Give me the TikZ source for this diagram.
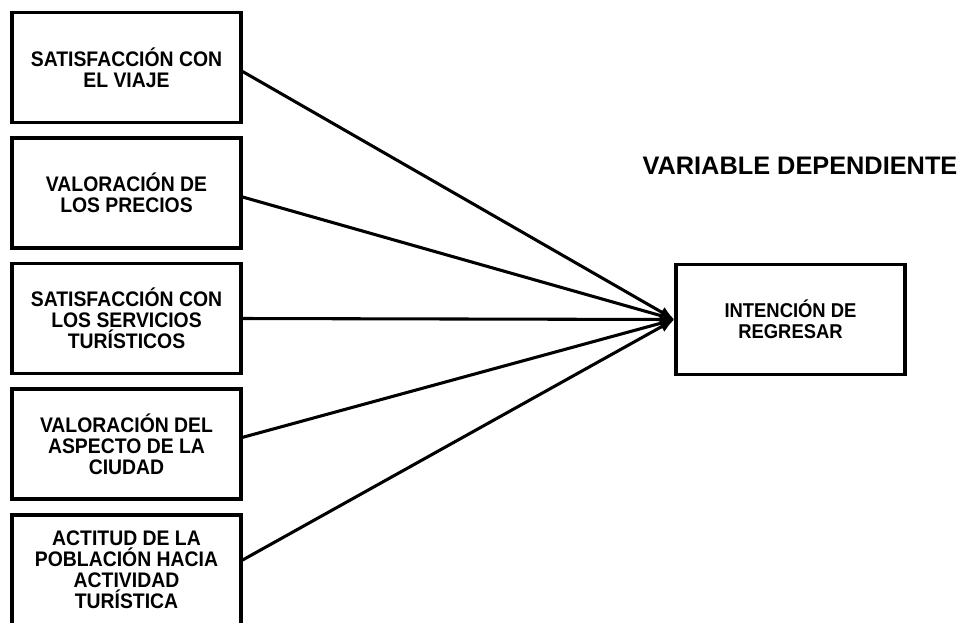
\documentclass[tikz,border=0pt]{standalone}
\usepackage{fontspec}
\setmainfont{Liberation Sans}
\newfontfamily\boxfont[FakeStretch=0.92]{Liberation Sans Bold}
\usetikzlibrary{arrows.meta,positioning}
\begin{document}
\begin{tikzpicture}[x=0.75pt,y=-0.75pt,
  box/.style={draw=black,line width=2.4pt,minimum width=229*0.75pt,minimum height=110*0.75pt,
    inner sep=0pt,align=center,font=\boxfont\fontsize{15.8}{15.8}\selectfont},
  conn/.style={line width=2.3pt,-{Latex[length=11pt,width=9pt]}}]
\useasboundingbox (0,0) rectangle (962,622);
\node[box] (b1) at (126.5,67.5) {SATISFACCIÓN CON\\EL VIAJE};
\node[box] (b2) at (126.5,193) {VALORACIÓN DE\\LOS PRECIOS};
\node[box] (b3) at (126.5,318.5) {SATISFACCIÓN CON\\LOS SERVICIOS\\TURÍSTICOS};
\node[box] (b4) at (126.5,444) {VALORACIÓN DEL\\ASPECTO DE LA\\CIUDAD};
\node[box] (b5) at (126.5,570) {ACTITUD DE LA\\POBLACIÓN HACIA\\ACTIVIDAD\\TURÍSTICA};
\node[box,font=\boxfont\fontsize{15}{15.8}\selectfont] (r) at (790.5,319.5) {INTENCIÓN DE\\REGRESAR};
\node[font=\bfseries\fontsize{19}{21}\selectfont,inner sep=0pt] (t) at (800,166) {VARIABLE DEPENDIENTE};
\draw[conn] ([yshift=-3pt]b1.east) -- (r.west);
\draw[conn] ([yshift=-3pt]b2.east) -- (r.west);
\draw[conn] (b3.east) -- (r.west);
\draw[conn] ([yshift=5pt]b4.east) -- (r.west);
\draw[conn] ([yshift=7.5pt]b5.east) -- (r.west);
\end{tikzpicture}
\end{document}
